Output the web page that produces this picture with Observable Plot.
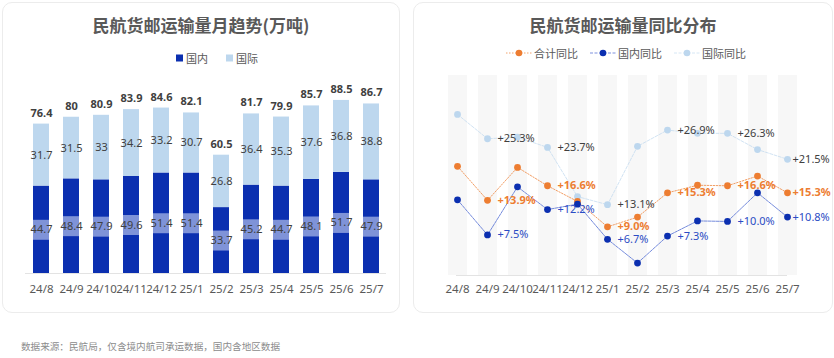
<!DOCTYPE html>
<html>
<head>
<meta charset="utf-8">
<script src="https://cdn.jsdelivr.net/npm/d3@7"></script>
<script src="https://cdn.jsdelivr.net/npm/@observablehq/plot@0.6"></script>
<style>
  body { margin: 0; background: #fff; font-family: "Noto Sans", "Noto Sans CJK SC", sans-serif; }
  #root { position: relative; width: 834px; height: 358px; overflow: hidden; background: #fff; }
  .card { position: absolute; top: 2px; height: 311px; border: 1px solid #ececec; border-radius: 10px; box-sizing: border-box; }
  .title { position: absolute; top: 14px; height: 22px; line-height: 22px; text-align: center; font-size: 17px; font-weight: bold; color: #595959; font-family: "Noto Sans CJK SC", sans-serif; white-space: nowrap; }
  .legend { position: absolute; height: 14px; line-height: 14px; font-size: 11px; color: #595959; font-family: "Noto Sans CJK SC", sans-serif; display: flex; align-items: center; white-space: nowrap; }
  .legend .item { display: flex; align-items: center; }
  .legend svg { display: block; }
  .chart { position: absolute; }
  .caption { position: absolute; left: 21px; top: 339px; font-size: 9.6px; line-height: 14px; color: #8c8c8c; font-family: "Noto Sans CJK SC", sans-serif; white-space: nowrap; }
</style>
</head>
<body>
<div id="root">
  <div class="card" style="left:2px;width:398px;"></div>
  <div class="card" style="left:413px;width:420px;"></div>
  <div class="title" style="left:2px;width:398px;">民航货邮运输量月趋势(万吨)</div>
  <div class="title" style="left:413px;width:420px;">民航货邮运输量同比分布</div>
  <div class="legend" id="legL" style="left:176px;top:51px;"></div>
  <div class="legend" id="legR" style="left:506px;top:46px;"></div>
  <div class="chart" id="left" style="left:0px;top:70px;"></div>
  <div class="chart" id="right" style="left:413px;top:65px;"></div>
  <div class="caption">数据来源：民航局，仅含境内航司承运数据，国内含地区数据</div>
</div>
<script>
// ---- data ----
const months = ["24/8","24/9","24/10","24/11","24/12","25/1","25/2","25/3","25/4","25/5","25/6","25/7"];
const domestic = [44.7,48.4,47.9,49.6,51.4,51.4,33.7,45.2,44.7,48.1,51.7,47.9];
const international = [31.7,31.5,33,34.2,33.2,30.7,26.8,36.4,35.3,37.6,36.8,38.8];
const totals = [76.4,80,80.9,83.9,84.6,82.1,60.5,81.7,79.9,85.7,88.5,86.7];

const totalYoY = [20.2,13.9,20.0,16.6,13.7,9.0,10.8,15.3,16.7,16.6,18.4,15.3];
const domesticYoY = [14.0,7.5,16.4,12.2,13.2,6.7,2.3,7.3,10.1,10.0,15.3,10.8];
const internationalYoY = [29.8,25.3,25.6,23.7,14.6,13.1,23.9,26.9,26.3,26.3,23.3,21.5];
const labeledMonths = ["24/9","24/11","25/1","25/3","25/5","25/7"];

const seriesNames = ["国内","国际"];
const yoyNames = ["合计同比","国内同比","国际同比"];

// ---- colors ----
const cDom = "#0b2fb0", cIntl = "#bdd7ee", cBand = "#7f93d8", cOrange = "#ed7d31";
const cDomLine = "#5d77d6", cDomText = "#2b4cc4", cGrey = "#404040", cAxis = "#595959";

// ---- legends ----
const legL = document.getElementById("legL");
legL.innerHTML =
  `<div class="item"><svg width="8" height="8"><rect width="7" height="7" y="0.5" fill="${cDom}"/></svg><span style="margin-left:2px">${seriesNames[0]}</span></div>` +
  `<div class="item" style="margin-left:18px"><svg width="8" height="8"><rect width="7" height="7" y="0.5" fill="${cIntl}"/></svg><span style="margin-left:2px">${seriesNames[1]}</span></div>`;

function lineSwatch(color, dash, dotColor, opacity) {
  return `<svg width="26" height="10"><line x1="0" x2="26" y1="5" y2="5" stroke="${color}" stroke-width="1" stroke-dasharray="${dash}" stroke-opacity="${opacity}"/><circle cx="13" cy="5" r="3.3" fill="${dotColor}"/></svg>`;
}
const legR = document.getElementById("legR");
legR.innerHTML =
  `<div class="item">${lineSwatch(cOrange, "1.5,1.5", cOrange, 0.7)}<span style="margin-left:2px">${yoyNames[0]}</span></div>` +
  `<div class="item" style="margin-left:12px">${lineSwatch(cDomLine, "3,1.5", cDom, 0.8)}<span style="margin-left:2px">${yoyNames[1]}</span></div>` +
  `<div class="item" style="margin-left:12px">${lineSwatch(cIntl, "3,1.5", cIntl, 0.6)}<span style="margin-left:2px">${yoyNames[2]}</span></div>`;

// ---- left chart ----
const rows = months.map((m, i) => ({month: m, domestic: domestic[i], international: international[i], total: totals[i]}));
const stacked = rows.flatMap(r => [
  {month: r.month, type: seriesNames[0], value: r.domestic},
  {month: r.month, type: seriesNames[1], value: r.international}
]);
const fontFam = "Noto Sans, Noto Sans CJK SC, sans-serif";

const left = Plot.plot({
  width: 400, height: 230,
  marginLeft: 25, marginRight: 14, marginTop: 27, marginBottom: 27,
  style: {fontFamily: fontFam, fontSize: "11.5px", color: cAxis, background: "transparent"},
  x: {domain: months, paddingInner: 0.47, paddingOuter: 0.25, label: null, tickSize: 0, tickPadding: 11},
  y: {domain: [0, 90], axis: null},
  color: {domain: seriesNames, range: [cDom, cIntl]},
  marks: [
    Plot.barY(stacked, {x: "month", y: "value", fill: "type"}),
    Plot.tickY(rows, {x: "month", y: d => d.domestic / 2, stroke: cBand, strokeWidth: 20}),
    Plot.text(rows, {x: "month", y: d => d.domestic / 2, text: d => String(d.domestic), fill: cGrey, fontSize: 11}),
    Plot.text(rows, {x: "month", y: d => d.domestic + d.international / 2, text: d => String(d.international), fill: cGrey, fontSize: 11}),
    Plot.text(rows, {x: "month", y: "total", text: d => String(d.total), dy: -11, fill: cGrey, fontSize: 11, fontWeight: "bold"}),
    Plot.ruleY([0], {stroke: "#e3e3e3", strokeWidth: 1.2})
  ]
});
document.getElementById("left").appendChild(left);

// ---- right chart ----
const yoyRows = months.flatMap((m, i) => [
  {month: m, series: yoyNames[0], value: totalYoY[i]},
  {month: m, series: yoyNames[1], value: domesticYoY[i]},
  {month: m, series: yoyNames[2], value: internationalYoY[i]}
]);
const lastMonth = months[months.length - 1];
const bySeries = name => yoyRows.filter(d => d.series === name);
const labeled = name => bySeries(name).filter(d => labeledMonths.includes(d.month));
const pct = d => "+" + d.value.toFixed(1) + "%";

function labelMarks(name, opts) {
  const data = labeled(name);
  return [
    Plot.text(data.filter(d => d.month !== lastMonth), {x: "month", y: "value", text: pct, dx: 10, textAnchor: "start", fontSize: 11, ...opts}),
    Plot.text(data.filter(d => d.month === lastMonth), {x: "month", y: "value", text: pct, dx: 5, textAnchor: "start", fontSize: 11, ...opts})
  ];
}

const right = Plot.plot({
  width: 420, height: 240,
  marginLeft: 43, marginRight: 46, marginTop: 10, marginBottom: 30,
  style: {fontFamily: fontFam, fontSize: "11.5px", color: cAxis, background: "transparent", overflow: "visible"},
  x: {type: "point", domain: months, padding: 0, label: null, tickSize: 0, tickPadding: 9},
  y: {domain: [0, 37], axis: null},
  marks: [
    Plot.ruleX(months, {stroke: "#f7f7f7", strokeWidth: 19}),
    Plot.ruleY([0], {stroke: "#e3e3e3", strokeWidth: 1.2}),
    Plot.line(bySeries(yoyNames[2]), {x: "month", y: "value", stroke: cIntl, strokeWidth: 1, strokeDasharray: "3,1.5", strokeOpacity: 0.7}),
    Plot.line(bySeries(yoyNames[0]), {x: "month", y: "value", stroke: cOrange, strokeWidth: 1, strokeDasharray: "1.5,1.5", strokeOpacity: 0.75}),
    Plot.line(bySeries(yoyNames[1]), {x: "month", y: "value", stroke: cDomLine, strokeWidth: 1, strokeDasharray: "3,1", strokeOpacity: 0.85}),
    Plot.dot(bySeries(yoyNames[2]), {x: "month", y: "value", r: 3.4, fill: cIntl}),
    Plot.dot(bySeries(yoyNames[0]), {x: "month", y: "value", r: 3.4, fill: cOrange}),
    Plot.dot(bySeries(yoyNames[1]), {x: "month", y: "value", r: 3.4, fill: cDom}),
    ...labelMarks(yoyNames[2], {fill: cGrey}),
    ...labelMarks(yoyNames[0], {fill: cOrange, fontWeight: "bold"}),
    ...labelMarks(yoyNames[1], {fill: cDomText})
  ]
});
document.getElementById("right").appendChild(right);
</script>
</body>
</html>
